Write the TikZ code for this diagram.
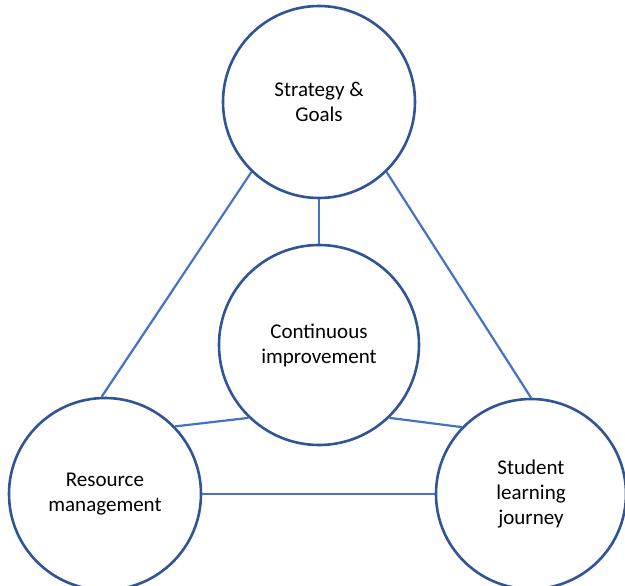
\documentclass[tikz,border=0pt]{standalone}
\usepackage{fontspec}
\setmainfont{Carlito}
\usepackage{tikz}
\usetikzlibrary{shapes}
\definecolor{ringblue}{HTML}{2F5597}
\definecolor{linkblue}{HTML}{4472C4}
\tikzstyle{area}=[circle,draw=ringblue,fill=white,line width=2.6pt,inner sep=0mm,align=center,font=\fontsize{21}{25}\selectfont]
\tikzstyle{link}=[draw=linkblue,line width=2.2pt]
\begin{document}
\begin{tikzpicture}[x=1pt,y=-1pt]
      \useasboundingbox (0,0) rectangle (625,586);
      \node[area,minimum size=192pt] at (319,102) (goals) {Strategy \&\\Goals};
      \node[area,minimum size=200pt] at (319,345) (improve) {Continuous\\improvement};
      \node[area,minimum size=192pt] at (105,494) (resource) {Resource\\management};
      \node[area,minimum size=190pt] at (531,494) (journey) {Student\\learning\\journey};
      \draw[link] (goals.226)--(resource.92);
      \draw[link] (goals.314)--(journey.90);
      \draw[link] (goals.south)--(improve.north);
      \draw[link] (improve.226)--(resource.44);
      \draw[link] (improve.314)--(journey.136);
      \draw[link] (resource.east)--(journey.west);
    \end{tikzpicture}
\end{document}
